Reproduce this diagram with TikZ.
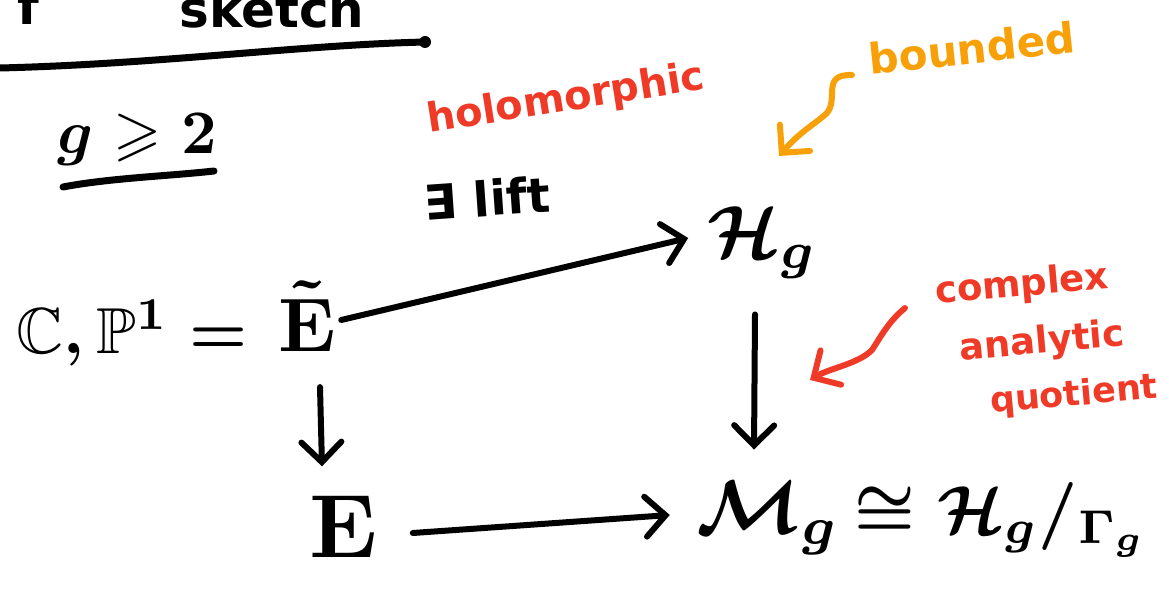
\documentclass[tikz,border=0pt]{standalone}
\usepackage{amssymb}
\usepackage{graphicx}
\usepackage{fontspec}
\newfontfamily\hand{DejaVu Sans Bold}
\usetikzlibrary{arrows.meta}
\definecolor{penred}{RGB}{238,58,38}
\definecolor{penorange}{RGB}{248,160,8}
\tikzset{
  ink/.style={line width=6pt, line cap=round, line join=round},
  arr/.style={ink, -{Straight Barb[length=20pt,width=40pt,line cap=round]}},
  mathbig/.style={inner sep=0pt, font=\boldmath},
  handtext/.style={inner sep=0pt, font=\hand},
}
\begin{document}
\begin{tikzpicture}[x=1pt,y=-1pt]
\useasboundingbox (0,0) rectangle (1169,601);
\clip (0,0) rectangle (1169,601);
% title (cut off at top)
\node[handtext, anchor=base, font=\hand\fontsize{50}{56}\selectfont] (tf) at (28,25) {f};
\node[handtext, anchor=base, font=\hand\fontsize{50}{56}\selectfont] (title) at (272,28) {sketch};
\coordinate (ul1a) at (0,68);
\coordinate (ul1b) at (425,42);
\draw[ink, line width=7pt] (ul1a) .. controls (160,64) and (300,45) .. (ul1b);
\fill (ul1b) circle (6);
% g >= 2
\node[mathbig, scale=6.2] (g2) at (137,140) {$g\geqslant 2$};
\coordinate (ul2a) at (63,187);
\coordinate (ul2b) at (214,171);
\draw[ink, line width=7pt] (ul2a) .. controls (110,178) and (170,176) .. (ul2b);
% labels
\node[handtext, text=penred, rotate=9, font=\hand\fontsize{40}{46}\selectfont] (holo) at (566,100) {holomorphic};
\node[handtext, rotate=4, font=\hand\fontsize{48}{54}\selectfont] (lift) at (487,198) {∃ lift};
\node[handtext, text=penorange, rotate=6, font=\hand\fontsize{42}{48}\selectfont] (bdd) at (972,48) {bounded};
\node[handtext, text=penred, rotate=5, font=\hand\fontsize{37}{42}\selectfont] (cx1) at (1022,286) {complex};
\node[handtext, text=penred, rotate=5, font=\hand\fontsize{37}{42}\selectfont] (cx2) at (1042,343) {analytic};
\node[handtext, text=penred, rotate=5, font=\hand\fontsize{35}{40}\selectfont] (cx3) at (1074,396) {quotient};
% diagram
\node[mathbig, scale=6.5] (lhs) at (132,333) {$\mathbb{C},\mathbb{P}^1 =$};
\node[mathbig, scale=7.6] (Et) at (307,316) {$\tilde{\mathbf{E}}$};
\node[mathbig, scale=7.4] (H) at (763,243) {$\mathcal{H}_g$};
\node[mathbig, scale=9] (E) at (343,527) {$\mathbf{E}$};
\node[mathbig, scale=7.6] (M) at (768,518) {$\mathcal{M}_g$};
\node[mathbig, scale=6.8, anchor=base west] (Q) at ([xshift=12pt]M.base east) {$\cong \mathcal{H}_g{/}_{\Gamma_g}$};
\draw[arr] ([xshift=4pt,yshift=-4pt]Et.east) -- ([xshift=-18pt,yshift=5pt]H.west);
\draw[arr] ([xshift=13pt,yshift=-34pt]Et.south) -- ([xshift=-21pt,yshift=28pt]E.north);
\draw[arr] ([xshift=34pt,yshift=-6pt]E.east) -- ([xshift=-25pt,yshift=3pt]M.west);
\draw[arr] ([xshift=-8pt,yshift=-34pt]H.south) -- ([xshift=-14pt,yshift=30pt]M.north);
% annotation arrows
\coordinate (oa) at (852,75);
\coordinate (ob) at (779,156);
\draw[ink, penorange, -{Straight Barb[length=20pt,width=40pt,line cap=round]}]
  (oa) .. controls (820,74) and (840,100) .. (826,114)
       .. controls (812,126) and (800,132) .. (ob);
\coordinate (ra) at (905,308);
\coordinate (rb) at (810,380);
\draw[ink, penred, -{Straight Barb[length=20pt,width=40pt,line cap=round]}]
  (ra) .. controls (888,322) and (880,338) .. (872,350)
       .. controls (858,364) and (830,368) .. (rb);
\end{tikzpicture}
\end{document}
